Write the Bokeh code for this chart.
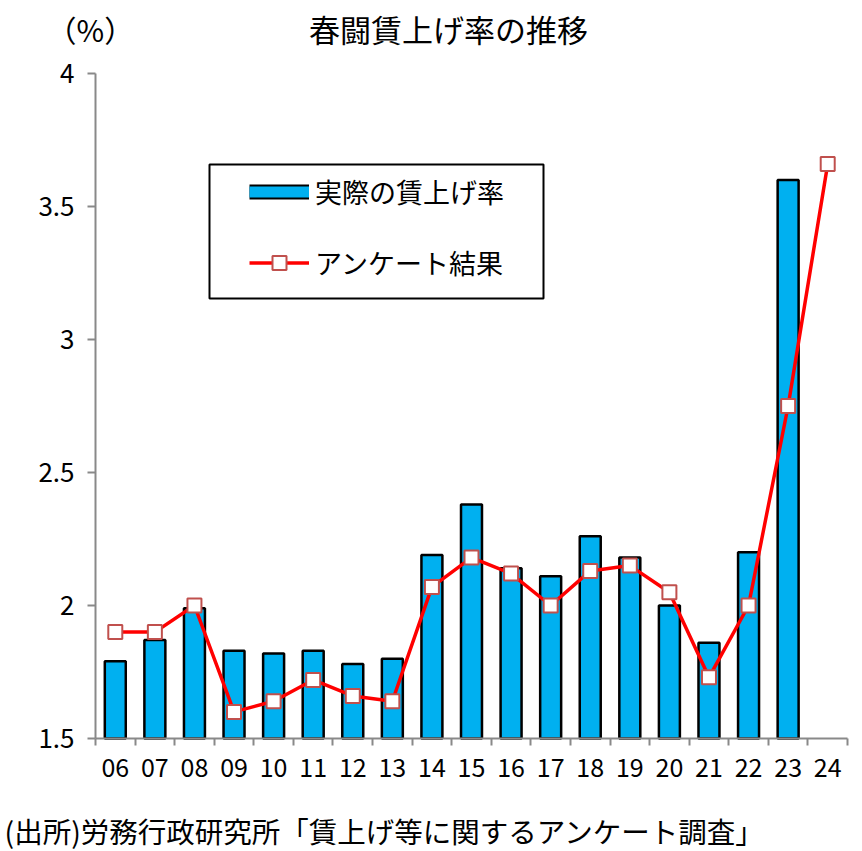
from bokeh.plotting import figure
from bokeh.models import (FixedTicker, Legend, LegendItem, BoxAnnotation, Label, Range1d)
from bokeh.embed import file_html
from bokeh.resources import INLINE

# Fiscal years (two-digit labels)
years = ["06", "07", "08", "09", "10", "11", "12", "13", "14", "15",
         "16", "17", "18", "19", "20", "21", "22", "23", "24"]
# Actual spring wage-hike rate (%), 2006-2023
actual = [1.79, 1.87, 1.99, 1.83, 1.82, 1.83, 1.78, 1.80, 2.19, 2.38,
          2.14, 2.11, 2.26, 2.18, 2.00, 1.86, 2.20, 3.60]
# Survey forecast (%), 2006-2024
survey = [1.90, 1.90, 2.00, 1.60, 1.64, 1.72, 1.66, 1.64, 2.07, 2.18,
          2.12, 2.00, 2.13, 2.15, 2.05, 1.73, 2.00, 2.75, 3.66]
y_ticks = [1.5, 2.0, 2.5, 3.0, 3.5, 4.0]
y_tick_labels = ["1.5", "2", "2.5", "3", "3.5", "4"]

FONT = "Noto Sans CJK JP"
AXIS_GREY = "#898989"
BAR_BLUE = "#00B0F0"

# Canvas geometry: the plotting area sits inside a full-canvas frame so that
# the heading and the source note can be drawn as ordinary labels.
W, H = 862, 851
AREA_L, AREA_R, AREA_T, AREA_B = 95, 847, 73, 738
x_lo, x_hi = -0.5, len(years) - 0.5
y_lo, y_hi = 1.5, 4.0
px_x = (AREA_R - AREA_L) / (x_hi - x_lo)
px_y = (AREA_B - AREA_T) / (y_hi - y_lo)
x_range = Range1d(x_lo - AREA_L / px_x, x_hi + (W - AREA_R) / px_x)
y_range = Range1d(y_lo - (H - AREA_B) / px_y, y_hi + AREA_T / px_y)

xs_all = list(range(len(years)))
xs_bar = xs_all[:len(actual)]

p = figure(width=W, height=H, output_backend="svg", toolbar_location=None,
           x_range=x_range, y_range=y_range, min_border=0)
p.outline_line_color = None
p.xgrid.visible = False
p.ygrid.visible = False

# bars
p.vbar(x=xs_bar, top=actual, bottom=y_lo, width=0.53,
       fill_color=BAR_BLUE, line_color="black", line_width=2.5)

# survey line with square markers
line_r = p.line(xs_all, survey, line_color="#FF0000", line_width=3.5)
mark_r = p.scatter(xs_all, survey, marker="square", size=14,
                   fill_color="white", line_color="#C0504D", line_width=2)

# legend swatch for the bars (black edge, blue fill); the lines themselves draw nothing
nan = float("nan")
sw_edge = p.line(x=[nan], y=[nan], line_color="black", line_width=15)
sw_fill = p.line(x=[nan], y=[nan], line_color=BAR_BLUE, line_width=11)

# category axis drawn along the 1.5 % baseline
xa = p.xaxis[0]
xa.fixed_location = y_lo
xa.bounds = (x_lo, x_hi)
xa.ticker = FixedTicker(ticks=xs_all, minor_ticks=[i - 0.5 for i in range(len(years) + 1)])
xa.major_label_overrides = {i: y for i, y in enumerate(years)}
xa.axis_line_color = AXIS_GREY
xa.axis_line_width = 2
xa.major_tick_out = 0
xa.major_tick_in = 0
xa.minor_tick_out = 7
xa.minor_tick_in = 0
xa.minor_tick_line_color = AXIS_GREY
xa.minor_tick_line_width = 2
xa.major_label_standoff = 12
xa.major_label_text_font = FONT
xa.major_label_text_font_size = "25px"
xa.major_label_text_color = "black"

# value axis drawn along the left edge of the bar area
ya = p.yaxis[0]
ya.fixed_location = x_lo
ya.bounds = (y_lo, y_hi)
ya.ticker = FixedTicker(ticks=y_ticks, minor_ticks=[])
ya.major_label_overrides = dict(zip(y_ticks, y_tick_labels))
ya.axis_line_color = AXIS_GREY
ya.axis_line_width = 2
ya.major_tick_out = 8
ya.major_tick_in = 0
ya.major_tick_line_color = AXIS_GREY
ya.major_tick_line_width = 2
ya.minor_tick_line_color = None
ya.major_label_standoff = 13
ya.major_label_text_font = FONT
ya.major_label_text_font_size = "26px"
ya.major_label_text_color = "black"

# heading: unit and title
p.add_layout(Label(x=46, y=H - 28, x_units="screen", y_units="screen", text="（%）",
                   text_align="left", text_baseline="middle",
                   text_font=FONT, text_font_size="30px", text_color="black"))
p.add_layout(Label(x=448, y=H - 28, x_units="screen", y_units="screen",
                   text="春闘賃上げ率の推移", text_align="center", text_baseline="middle",
                   text_font=FONT, text_font_size="31px", text_color="black"))

# legend frame
p.add_layout(BoxAnnotation(left=209, right=543, bottom=H - 298, top=H - 164,
                           left_units="screen", right_units="screen",
                           bottom_units="screen", top_units="screen",
                           fill_alpha=0, line_color="black", line_alpha=1, line_width=2))

legend = Legend(items=[
    LegendItem(label="実際の賃上げ率", renderers=[sw_edge, sw_fill]),
    LegendItem(label="アンケート結果", renderers=[line_r, mark_r]),
], location=(249, H - 282), orientation="vertical",
    glyph_width=60, glyph_height=35, label_height=35, spacing=32,
    label_standoff=6, padding=0, margin=0,
    border_line_alpha=0, background_fill_alpha=0,
    label_text_font=FONT, label_text_font_size="27px", label_text_color="black")
p.add_layout(legend)

# source note
p.add_layout(Label(x=4, y=H - 830, x_units="screen", y_units="screen",
                   text="(出所)労務行政研究所「賃上げ等に関するアンケート調査」",
                   text_align="left", text_baseline="middle",
                   text_font=FONT, text_font_size="28.5px", text_color="black"))

open("out.html", "w").write(file_html(p, INLINE))
